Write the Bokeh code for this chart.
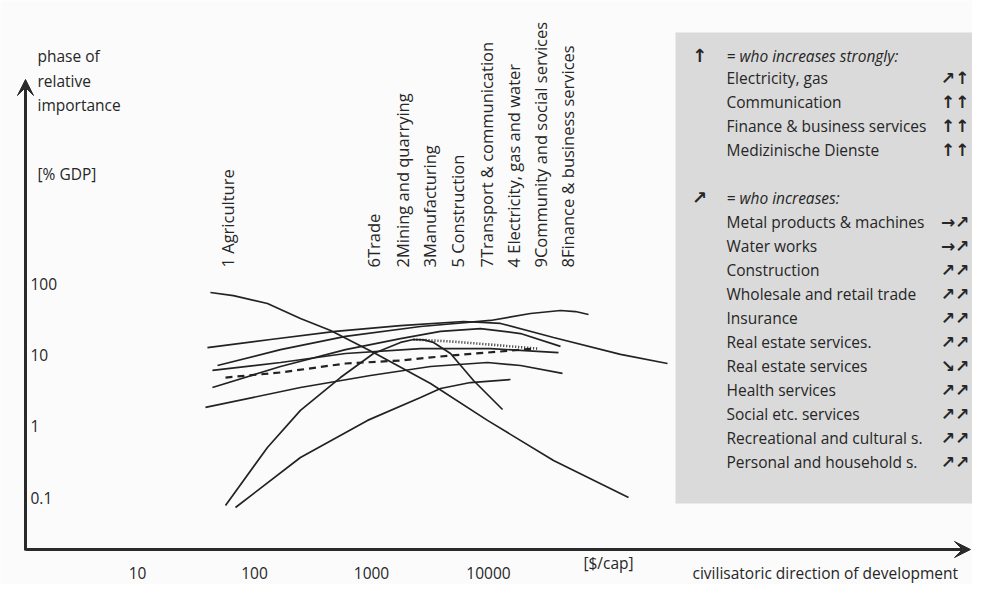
import math
from bokeh.plotting import figure
from bokeh.models import Range1d, Arrow, VeeHead
from bokeh.core.properties import value
from bokeh.embed import file_html
from bokeh.resources import INLINE

# ---------------- data ----------------
x_ticks = [10, 100, 1000, 10000]
x_tick_labels = ["10", "100", "1000", "10000"]
y_ticks = [100, 10, 1, 0.1]
y_tick_labels = ["100", "10", "1", "0.1"]

# income [$/cap] and share [% GDP]
agri_x = [42, 66, 129, 247, 447, 1040, 3195, 9800, 35960, 157300]
agri_y = [75.3, 68.2, 52.7, 32.5, 22.1, 10.8, 3.98, 1.21, 0.331, 0.100]

mining_x = [56.5, 129, 247, 543, 1040, 1770, 2285, 2800, 3390, 4735, 7445, 13180]
mining_y = [0.0775, 0.505, 1.67, 4.83, 10.5, 15.0, 16.5, 16.3, 15.0, 10.5, 4.39, 1.72]

long_x = [39.6, 137, 492, 1770, 6110, 12670, 35960, 134300, 338800]
long_y = [12.7, 16.5, 21.4, 25.9, 29.5, 27.7, 17.6, 10.2, 7.6]

peak_x = [48.3, 167, 600, 2625, 10400, 22860, 41240, 55450, 71610]
peak_y = [7.13, 11.9, 18.2, 25.1, 30.5, 38.2, 42.1, 40.7, 37.0]

arch_x = [43.7, 167, 600, 1770, 3890, 8550, 18780, 41240]
arch_y = [3.50, 6.90, 11.9, 17.0, 21.4, 23.5, 20.0, 13.2]

flat_x = [43.7, 167, 600, 2625, 10400, 39650]
flat_y = [6.07, 7.85, 10.5, 12.3, 12.3, 10.8]

dashed_x = [56.5, 167, 600, 1770, 4735, 12670, 24270]
dashed_y = [4.83, 5.69, 7.60, 8.37, 9.84, 11.2, 12.3]

dotted_x = [2285, 4735, 10400, 26250]
dotted_y = [16.5, 15.5, 14.0, 12.3]

low_x = [38.1, 247, 980, 3195, 9800, 18780, 42890]
low_y = [1.84, 3.50, 5.16, 6.90, 7.85, 7.13, 5.51]

rise_x = [68.8, 247, 925, 2625, 3890, 7015, 15420]
rise_y = [0.0726, 0.365, 1.21, 2.54, 3.39, 4.11, 4.53]

sector_labels = ["1 Agriculture", "6Trade", "2Mining  and quarrying", "3Manufacturing",
                 "5 Construction", "7Transport &  communication",
                 "4 Electricity, gas and water", "9Community  and social services",
                 "8Finance &  business services"]

strong_items = ["Electricity, gas", "Communication", "Finance & business services",
                "Medizinische Dienste"]
strong_marks = ["\u2197\u2191", "\u2191\u2191", "\u2191\u2191", "\u2191\u2191"]
incr_items = ["Metal products & machines", "Water works", "Construction",
              "Wholesale and retail trade", "Insurance", "Real estate services.",
              "Real estate services", "Health services", "Social etc. services",
              "Recreational and cultural s.", "Personal and household s."]
incr_marks = ["\u2192\u2197", "\u2192\u2197", "\u2197\u2197", "\u2197\u2197", "\u2197\u2197",
              "\u2197\u2197", "\u2198\u2197", "\u2197\u2197", "\u2197\u2197", "\u2197\u2197",
              "\u2197\u2197"]

# ---------------- layout helpers (picture pixels -> data) ----------------
def px_x(X):
    return 10 ** (1 + (X - 137) / 117.0)

def px_y(Y):
    return 10 ** (1 - (Y - 354.5) / 71.3)

W, H = 972, 584
p = figure(width=W, height=H, x_axis_type="log", y_axis_type="log",
           x_range=Range1d(px_x(0), px_x(W)), y_range=Range1d(px_y(H), px_y(0)),
           output_backend="svg", toolbar_location=None, title=None,
           x_axis_location=None, y_axis_location=None, min_border=0,
           outline_line_color=None, background_fill_color="#fbfbfb",
           border_fill_color="#fbfbfb")
p.grid.grid_line_color = None

FONT = value("Open Sans")
TXT = "#262626"
LINE = "#222222"

# legend box
p.quad(left=[px_x(675)], right=[px_x(990)], top=[px_y(32)], bottom=[px_y(503)],
       fill_color="#dadada", line_color=None)

# curves
for xs, ys in [(agri_x, agri_y), (mining_x, mining_y), (long_x, long_y),
               (peak_x, peak_y), (arch_x, arch_y), (flat_x, flat_y),
               (low_x, low_y), (rise_x, rise_y)]:
    p.line(xs, ys, line_color=LINE, line_width=1.7)
p.line(dashed_x, dashed_y, line_color=LINE, line_width=2.2, line_dash="7 5")
p.line(dotted_x, dotted_y, line_color=LINE, line_width=2.6, line_dash="1 2")

# axes with arrows
p.add_layout(Arrow(x_start=px_x(25), y_start=px_y(549), x_end=px_x(970), y_end=px_y(549),
                   line_color="#2a2a2a", line_width=3,
                   end=VeeHead(size=16, fill_color="#2a2a2a", line_color="#2a2a2a")))
p.add_layout(Arrow(x_start=px_x(25), y_start=px_y(550), x_end=px_x(25), y_end=px_y(79),
                   line_color="#2a2a2a", line_width=3,
                   end=VeeHead(size=16, fill_color="#2a2a2a", line_color="#2a2a2a")))

# tick labels
p.text(x=x_ticks, y=[px_y(572)] * len(x_ticks), text=x_tick_labels, text_font=FONT,
       text_font_size="15.5px", text_color=TXT, text_align="center", text_baseline="middle")
p.text(x=[px_x(30)] * len(y_ticks), y=y_ticks, text=y_tick_labels, text_font=FONT,
       text_font_size="15.5px", text_color=TXT, text_align="left", text_baseline="middle")

# axis titles
p.text(x=[px_x(37)] * 4, y=[px_y(55), px_y(80), px_y(104), px_y(173)],
       text=["phase of", "relative", "importance", "[% GDP]"], text_font=FONT,
       text_font_size="15.5px", text_color=TXT, text_align="left", text_baseline="middle")
p.text(x=[px_x(608)], y=[px_y(562)], text=["[$/cap]"], text_font=FONT,
       text_font_size="15.5px", text_color=TXT, text_align="center", text_baseline="middle")
p.text(x=[px_x(692)], y=[px_y(572)], text=["civilisatoric direction of development"],
       text_font=FONT, text_font_size="15.5px", text_color=TXT, text_align="left",
       text_baseline="middle")

# sector labels (vertical)
lab_px = [227, 373, 402, 429, 457, 486, 513, 540, 567]
p.text(x=[px_x(v) for v in lab_px], y=[px_y(267)] * len(lab_px), text=sector_labels,
       angle=math.pi / 2, text_font=FONT, text_font_size="16.5px", text_color=TXT,
       text_align="left", text_baseline="middle")

# legend
ARW = value("DejaVu Sans")
p.text(x=[px_x(699)] * 2, y=[px_y(55), px_y(197)], text=["\u2191", "\u2197"], text_font=ARW,
       text_font_size="18px", text_font_style="bold", text_color=TXT, text_align="center",
       text_baseline="middle")
p.text(x=[px_x(726)] * 2, y=[px_y(55), px_y(197)],
       text=["= who increases strongly:", "= who increases:"], text_font=FONT,
       text_font_size="15.5px", text_font_style="italic", text_color=TXT,
       text_align="left", text_baseline="middle")
ys_strong = [77 + 24 * i for i in range(len(strong_items))]
ys_incr = [221 + 24 * i for i in range(len(incr_items))]
p.text(x=[px_x(726)] * (len(strong_items) + len(incr_items)),
       y=[px_y(v) for v in ys_strong + ys_incr], text=strong_items + incr_items,
       text_font=FONT, text_font_size="15.5px", text_color=TXT, text_align="left",
       text_baseline="middle")
p.text(x=[px_x(969)] * (len(strong_marks) + len(incr_marks)),
       y=[px_y(v) for v in ys_strong + ys_incr], text=strong_marks + incr_marks,
       text_font=ARW, text_font_size="17px", text_font_style="bold", text_color=TXT,
       text_align="right", text_baseline="middle")

open("out.html", "w").write(file_html(p, INLINE))
